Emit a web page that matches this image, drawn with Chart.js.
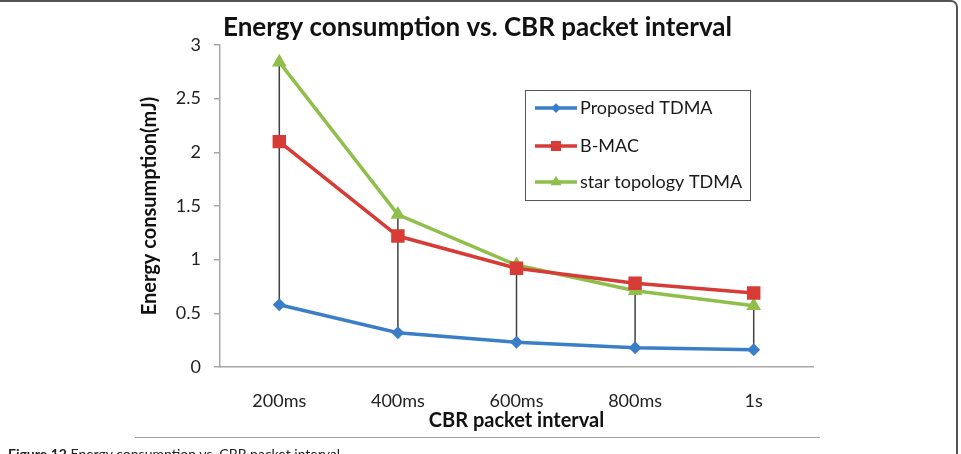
<!DOCTYPE html>
<html>
<head>
<meta charset="utf-8">
<title>Energy consumption vs. CBR packet interval</title>
<script src="https://cdn.jsdelivr.net/npm/chart.js@4.4.1/dist/chart.umd.min.js"></script>
<style>
  html, body { margin: 0; padding: 0; background: #fff; }
  body { width: 961px; height: 454px; overflow: hidden; position: relative; font-family: Lato, "Open Sans", sans-serif; }
  #frame { position: absolute; left: -20px; top: 0; width: 978px; height: 520px; border: 2px solid #555; border-radius: 7px; box-sizing: border-box; }
  #rule { position: absolute; left: 135px; top: 437px; width: 685px; height: 1px; background: #a0a0a0; }
  #caption { position: absolute; left: 8px; top: 446px; font-size: 14px; line-height: 16px; color: #222; white-space: nowrap; }
  #chart { position: absolute; left: 0; top: 0; }
</style>
</head>
<body>
<div id="frame"></div>
<canvas id="chart" width="961" height="454"></canvas>
<div id="rule"></div>
<div id="caption"><b>Figure 12</b> Energy consumption vs. CBR packet interval</div>
<script>
// Data
const intervals = ["200ms", "400ms", "600ms", "800ms", "1s"];
const proposedTdma = [0.58, 0.32, 0.23, 0.18, 0.16];
const bMac = [2.10, 1.22, 0.92, 0.78, 0.69];
const starTdma = [2.84, 1.42, 0.95, 0.71, 0.57];
const yTicks = [0, 0.5, 1, 1.5, 2, 2.5, 3];

const FONT = "Lato, 'Open Sans', sans-serif";

// High-low lines between the highest and lowest value of each category
const hiLoLines = {
  id: "hiLoLines",
  beforeDatasetsDraw(chart) {
    const { ctx, scales } = chart;
    const sets = chart.data.datasets;
    ctx.save();
    ctx.strokeStyle = "#404040";
    ctx.lineWidth = 1.5;
    chart.data.labels.forEach((lab, i) => {
      const vals = sets.map((d) => d.data[i]);
      const x = scales.x.getPixelForValue(i);
      ctx.beginPath();
      ctx.moveTo(x, scales.y.getPixelForValue(Math.max(...vals)));
      ctx.lineTo(x, scales.y.getPixelForValue(Math.min(...vals)));
      ctx.stroke();
    });
    ctx.restore();
  }
};

// Boxed legend inside the plot, like the original
const boxLegend = {
  id: "boxLegend",
  afterDraw(chart) {
    const { ctx } = chart;
    const left = 525, top = 90, w = 225, h = 110;
    ctx.save();
    ctx.fillStyle = "#fff";
    ctx.fillRect(left, top, w, h);
    ctx.strokeStyle = "#555";
    ctx.lineWidth = 1;
    ctx.strokeRect(left + 0.5, top + 0.5, w, h);
    const rows = [108, 146, 182];
    chart.data.datasets.forEach((ds, i) => {
      const y = rows[i];
      ctx.strokeStyle = ds.borderColor;
      ctx.lineWidth = ds.borderWidth;
      ctx.beginPath();
      ctx.moveTo(535, y);
      ctx.lineTo(577, y);
      ctx.stroke();
      ctx.fillStyle = ds.backgroundColor;
      Chart.helpers.drawPoint(ctx, { pointStyle: ds.pointStyle, radius: ds.pointRadius * 0.75, rotation: 0, borderWidth: 0 }, 556, y);
      ctx.fillStyle = "#1a1a1a";
      ctx.font = "18px " + FONT;
      ctx.textBaseline = "middle";
      ctx.fillText(ds.label, 580, y);
    });
    ctx.restore();
  }
};

new Chart(document.getElementById("chart"), {
  type: "line",
  data: {
    labels: intervals,
    datasets: [
      {
        label: "Proposed TDMA",
        data: proposedTdma,
        borderColor: "#3b7ec8",
        backgroundColor: "#3b7ec8",
        borderWidth: 3.5,
        pointStyle: "rectRot",
        pointRadius: 6.5,
        pointBorderWidth: 0
      },
      {
        label: "B-MAC",
        data: bMac,
        borderColor: "#d63b36",
        backgroundColor: "#d63b36",
        borderWidth: 3.5,
        pointStyle: "rect",
        pointRadius: 9.5,
        pointBorderWidth: 0
      },
      {
        label: "star topology TDMA",
        data: starTdma,
        borderColor: "#8fbe4b",
        backgroundColor: "#8fbe4b",
        borderWidth: 3.5,
        pointStyle: "triangle",
        pointRadius: 8.5,
        pointBorderWidth: 0
      }
    ]
  },
  options: {
    responsive: false,
    animation: false,
    layout: { padding: { left: 142, right: 148, top: 12, bottom: 22 } },
    plugins: {
      legend: { display: false },
      tooltip: { enabled: false },
      title: {
        display: true,
        text: "Energy consumption vs. CBR packet interval",
        color: "#111",
        font: { family: FONT, size: 26, weight: "bold" },
        padding: { top: 0, bottom: 1.8 }
      }
    },
    scales: {
      x: {
        offset: true,
        grid: { display: false, drawTicks: false },
        border: { display: true, color: "#a8a8a8", width: 1.5 },
        ticks: { color: "#222", font: { family: FONT, size: 18 }, padding: 23 },
        title: {
          display: true,
          text: "CBR packet interval",
          color: "#111",
          font: { family: FONT, size: 20, weight: "bold" },
          padding: { top: 0, bottom: -1 }
        },
        afterFit(scale) { scale.height = 65; }
      },
      y: {
        min: 0,
        max: 3,
        afterBuildTicks(scale) { scale.ticks = yTicks.map((v) => ({ value: v })); },
        grid: { drawOnChartArea: false, drawTicks: true, tickLength: 6, color: "#a8a8a8", lineWidth: 1.5 },
        border: { display: true, color: "#a8a8a8", width: 1.5 },
        ticks: {
          color: "#222",
          font: { family: FONT, size: 18 },
          padding: 13,
          callback: (v) => String(v)
        },
        title: {
          display: true,
          text: "Energy consumption(mJ)",
          color: "#111",
          font: { family: FONT, size: 20, weight: "bold" },
          padding: { top: -4, bottom: 0 }
        },
        afterFit(scale) { scale.width = 78; }
      }
    }
  },
  plugins: [hiLoLines, boxLegend]
});
</script>
</body>
</html>
